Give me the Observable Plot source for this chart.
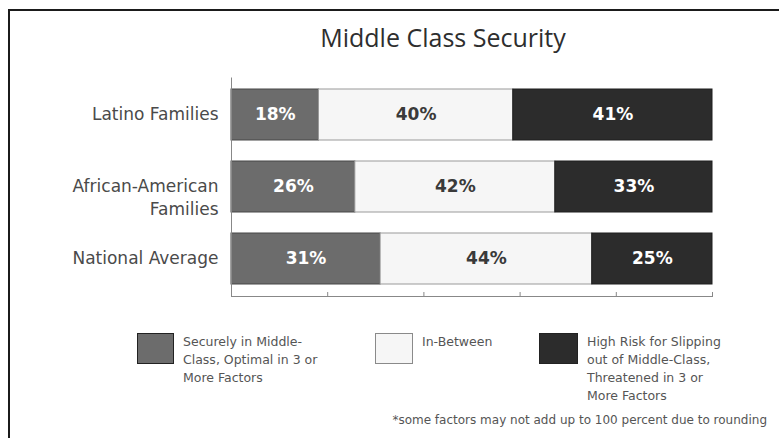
<!DOCTYPE html>
<html>
<head>
<meta charset="utf-8">
<script src="https://cdn.jsdelivr.net/npm/d3@7"></script>
<script src="https://cdn.jsdelivr.net/npm/@observablehq/plot@0.6"></script>
<style>
  html, body { margin: 0; padding: 0; background: #fff; }
  #page { position: relative; width: 779px; height: 438px; overflow: hidden; background: #fff; }
  #frame { position: absolute; left: 8px; top: 9px; width: 780px; height: 440px;
           border-left: 2.5px solid #1b1b1b; border-top: 2.5px solid #1b1b1b; box-sizing: border-box; }
  #title { position: absolute; left: 0; top: 20px; width: 779px; padding-left: 107px; box-sizing: border-box;
           text-align: center; font-family: "Open Sans", sans-serif; font-size: 25px; line-height: 34px; color: #2e2e2e; }
  #chart { position: absolute; left: 0; top: 62px; }
  .sw { position: absolute; box-sizing: border-box; }
  .lt { position: absolute; font-family: "DejaVu Sans", sans-serif; font-size: 12.5px; line-height: 18px; color: #555; }
  #note { position: absolute; right: 12px; top: 413px; font-family: "DejaVu Sans", sans-serif; font-size: 12px; color: #555; white-space: nowrap; }
</style>
</head>
<body>
<div id="page">
  <div id="frame"></div>
  <div id="title">Middle Class Security</div>
  <div id="chart"></div>
  <div id="legend"></div>
  <div id="note">*some factors may not add up to 100 percent due to rounding</div>
</div>
<script>
// Data
const groups = ["Latino Families", "African-American\nFamilies", "National Average"];
const categories = ["Securely in Middle-Class", "In-Between", "High Risk"];
const secure = [18, 26, 31];
const between = [40, 42, 44];
const highRisk = [41, 33, 25];
const fillColors = ["#6c6c6c", "#f6f6f6", "#2c2c2c"];
const strokeColors = ["#474747", "#9a9a9a", "#1e1e1e"];
const textColors = ["#ffffff", "#3a3a3a", "#ffffff"];
const legendLabels = [
  "Securely in Middle-<br>Class, Optimal in 3 or<br>More Factors",
  "In-Between",
  "High Risk for Slipping<br>out of Middle-Class,<br>Threatened in 3 or<br>More Factors"
];
const xTicks = [0, 0.2, 0.4, 0.6, 0.8, 1];

const series = [secure, between, highRisk];
const rows = [];
groups.forEach((g, gi) => {
  categories.forEach((c, ci) => {
    rows.push({group: g, cat: c, ci, value: series[ci][gi]});
  });
});

const stackOpts = {x: "value", y: "group", z: "cat", offset: "normalize", order: categories};

const chart = Plot.plot({
  width: 779,
  height: 244,
  marginLeft: 231,
  marginRight: 67,
  marginTop: 15.5,
  marginBottom: 10,
  x: {domain: [0, 1]},
  y: {domain: groups, paddingInner: 0.29, paddingOuter: 0.145, label: null},
  style: {background: "transparent"},
  marks: [
    Plot.barX(rows, Plot.stackX({
      ...stackOpts,
      fill: d => fillColors[d.ci],
      stroke: d => strokeColors[d.ci],
      strokeWidth: 1
    })),
    Plot.text(rows, Plot.stackX({
      ...stackOpts,
      text: d => d.value + "%",
      fill: d => textColors[d.ci],
      fontFamily: "DejaVu Sans",
      fontWeight: "bold",
      fontSize: 17
    })),
    Plot.frame({anchor: "left", stroke: "#888"}),
    Plot.frame({anchor: "bottom", stroke: "#888"}),
    Plot.axisX({ticks: xTicks, tickSize: -4, tickFormat: () => "", stroke: "#888", label: null}),
    Plot.axisY({
      tickSize: 0,
      tickPadding: 13,
      label: null,
      fontFamily: "DejaVu Sans",
      fontSize: 17,
      fill: "#4a4a4a",
      lineAnchor: "top",
      lineHeight: 1.35,
      dy: -11
    })
  ]
});
document.getElementById("chart").appendChild(chart);

// Legend (HTML, below the plot)
const legend = document.getElementById("legend");
const swX = [137, 375, 539];
const swW = [37, 38, 39];
const txtX = [183, 422, 587];
categories.forEach((c, i) => {
  const s = document.createElement("div");
  s.className = "sw";
  s.style.left = swX[i] + "px";
  s.style.top = "333px";
  s.style.width = swW[i] + "px";
  s.style.height = "31px";
  s.style.background = fillColors[i];
  s.style.border = "1.5px solid " + (i === 1 ? "#8a8a8a" : "#222");
  legend.appendChild(s);
  const t = document.createElement("div");
  t.className = "lt";
  t.style.left = txtX[i] + "px";
  t.style.top = "333px";
  t.innerHTML = legendLabels[i];
  legend.appendChild(t);
});
</script>
</body>
</html>
